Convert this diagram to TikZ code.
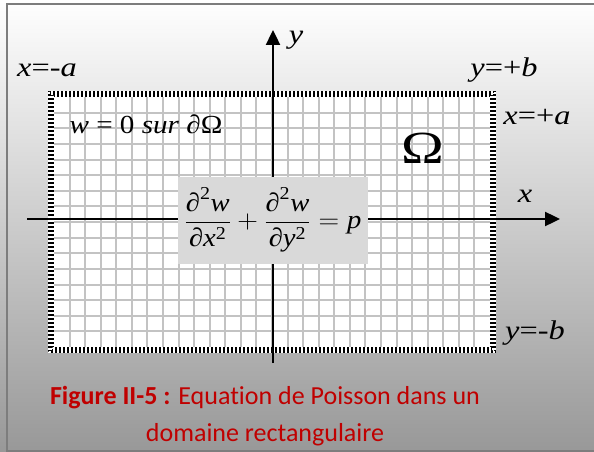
\RequirePackage{fix-cm}
\documentclass[tikz,border=0pt]{standalone}
\usepackage{amsmath}
\usepackage{fontspec}
\setmainfont{Liberation Serif}
\newfontfamily\capfont[Ligatures=NoCommon]{Carlito}
\usetikzlibrary{arrows.meta}
\definecolor{clrGrid}{RGB}{195,195,195}
\definecolor{clrBox}{RGB}{217,217,217}
\definecolor{clrFrame}{RGB}{125,125,125}
\definecolor{clrBottom}{RGB}{152,152,152}
\definecolor{clrCaption}{RGB}{192,0,0}
\newcommand{\wide}[2][1.2]{\scalebox{#1}[1]{#2}}

\begin{document}
\begin{tikzpicture}[
  x=1pt, y=-1pt,
  lbl/.style={font=\fontsize{27}{30}\selectfont, inner sep=0pt},
  axis/.style={line width=2.4pt, -{Triangle[length=15pt,width=14pt]}},
  gridline/.style={clrGrid, line width=2pt},
  checker/.style={white, line width=2pt, dash pattern=on 2pt off 2pt},
  eqbox/.style={fill=clrBox, minimum width=190pt, minimum height=87pt,
    inner sep=0pt, font=\fontsize{26}{30}\selectfont},
  caption/.style={font=\capfont\fontsize{26}{37}\selectfont, text=clrCaption,
    align=center, inner sep=0pt}
]
\useasboundingbox (0,0) rectangle (594,452);

% Background and frame
\shade[top color=white, bottom color=clrBottom] (0,0) rectangle (594,452);
\draw[clrFrame, line width=2pt] (7,4) rectangle (600,451);

% Domain with grid
\fill[white] (54,97) rectangle (490,347);
\foreach \i in {1,...,27}
  \draw[gridline] ({54+\i*15.571},97) -- ({54+\i*15.571},347);
\foreach \j in {1,...,15}
  \draw[gridline] (54,{97+\j*15.625}) -- (490,{97+\j*15.625});

% Checkered boundary
\draw[black, line width=6pt] (51,94) rectangle (493,350);
\draw[checker] (49,92) rectangle (495,352);
\draw[checker, dash phase=2pt] (51,94) rectangle (493,350);
\draw[checker] (53,96) rectangle (491,348);

% Axes
\coordinate (xstart) at (27,219);
\coordinate (xend)   at (560,219);
\coordinate (ystart) at (273,363);
\coordinate (yend)   at (273,30);
\draw[axis] (xstart) -- (xend);
\draw[axis] (ystart) -- (yend);

\node[lbl] (xlabel) at (525,196) {\wide{\textit{x}}};
\node[lbl] (ylabel) at (296,40)  {\wide{\textit{y}}};

% Boundary labels
\node[lbl] (xmina)  at (47,70)   {\wide{\textit{x}=-\textit{a}}};
\node[lbl] (yplusb) at (504,70)  {\wide{\textit{y}=+\textit{b}}};
\node[lbl] (xplusa) at (537,117) {\wide{\textit{x}=+\textit{a}}};
\node[lbl] (yminb)  at (535,333) {\wide{\textit{y}=-\textit{b}}};

\node[lbl, font=\fontsize{26}{30}\selectfont] (bc) at (146,124)
  {\wide[1.12]{\textit{w} = 0 \textit{sur} ∂Ω}};
\node[lbl, font=\fontsize{46}{50}\selectfont] (omega) at (423,148)
  {\wide[1.25]{Ω}};

% Equation
\node[eqbox] (eq) at (273,220)
  {\wide[1.1]{$\dfrac{\text{∂}^{\text{2}}\textit{w}}{\text{∂}\textit{x}^{\text{2}}}
   +\dfrac{\text{∂}^{\text{2}}\textit{w}}{\text{∂}\textit{y}^{\text{2}}}
   =\textit{p}$}};

% Caption
\node[caption] (cap) at (265,416)
  {\textbf{Figure II-5 :} Equation de Poisson dans un\\domaine rectangulaire};
\end{tikzpicture}
\end{document}
